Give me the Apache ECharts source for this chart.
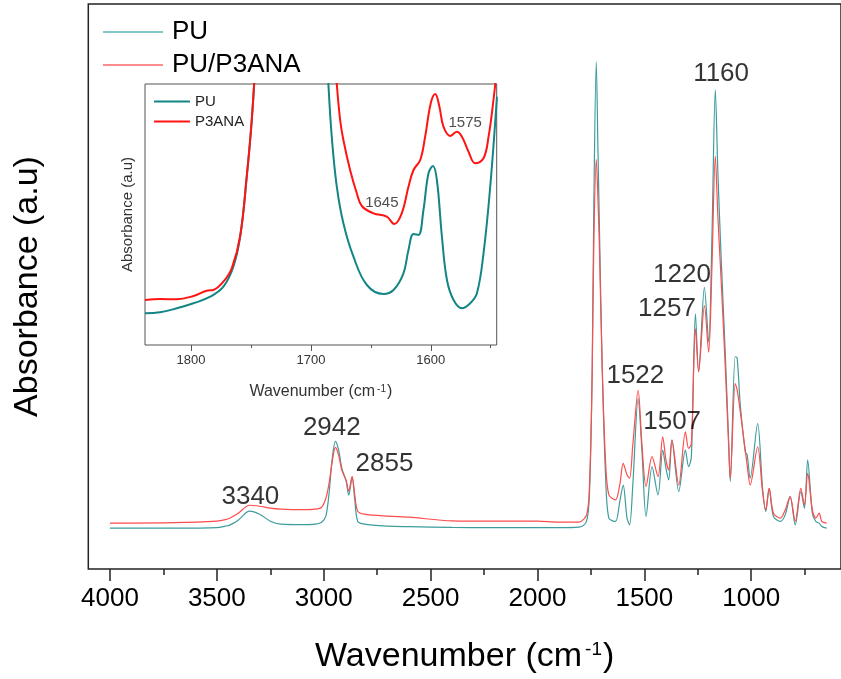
<!DOCTYPE html>
<html>
<head>
<meta charset="utf-8">
<title>PU / PU-P3ANA FTIR</title>
<script src="https://cdn.jsdelivr.net/npm/echarts@6.0.0/dist/echarts.min.js"></script>
<style>
  html, body { margin: 0; padding: 0; background: #fff; }
  #chart { width: 841px; height: 679px; }
</style>
</head>
<body>
<div id="chart"></div>
<script>
var FONT = '"Liberation Sans", Arial, sans-serif';

// main spectrum, wavenumber (cm-1) and absorbance (a.u.)
var wavenumbers = [4000, 3700, 3500, 3460, 3440, 3400, 3347, 3300, 3250, 3200, 3100, 3040, 3010, 2990, 2975, 2960, 2945, 2930, 2915, 2895,
  2883, 2867, 2855, 2841, 2810, 2700, 2600, 2400, 2200, 2000, 1900, 1806, 1783, 1769, 1759, 1751, 1744, 1736, 1725, 1717,
  1710, 1697, 1681, 1666, 1635, 1615, 1599, 1581, 1569, 1554, 1529, 1511, 1492, 1464, 1436, 1414, 1399, 1386, 1371, 1339,
  1308, 1293, 1280, 1261, 1246, 1219, 1199, 1184, 1168, 1156, 1141, 1121, 1106, 1098, 1075, 1066, 1051, 1028, 1019, 1005,
  970, 947, 932, 916, 896, 864, 841, 818, 794, 768, 751, 736, 714, 698, 682, 670, 647];
var puValues = [41, 41, 41.5, 43, 44, 49, 58, 55, 48, 45, 44.5, 45, 47, 53, 76, 111, 128, 119, 101, 88,
  74, 92, 70, 48, 45, 43, 42.5, 41.7, 41.5, 41.5, 41.5, 42, 44, 49, 66, 116, 201, 371, 509, 421,
  341, 201, 91, 51, 47.7, 67.7, 84.3, 51, 44.3, 84.3, 171, 117.7, 52.7, 102.7, 74.3, 119.3, 101, 89.3, 129.3, 77.7,
  119.3, 102.7, 112.7, 256, 198, 282.7, 227.7, 331, 481, 398, 314, 214, 131, 87.7, 213, 212, 164.3, 117.7, 114.3, 91,
  146, 81, 57.7, 81, 52.7, 47.7, 54.3, 72.7, 44.3, 77.7, 61, 109.3, 56, 47.7, 46, 42.7, 41];
var puP3anaValues = [46, 46.5, 48, 49.5, 51, 56, 64, 63, 61, 60, 59.5, 60, 62, 71, 86, 108, 122, 114, 99, 89,
  78, 93, 75, 58, 55, 53, 52, 48.3, 48, 48, 47, 47, 50, 55, 73, 124, 196, 331, 411, 371,
  321, 201, 106, 74.3, 69.3, 84.3, 106, 94.3, 91, 124.3, 179.3, 124.3, 82.7, 112.7, 92.7, 132.7, 109.3, 99.3, 129.3, 84.3,
  137.7, 121, 126, 241, 198, 264.3, 217.7, 301, 414.3, 354, 291, 201, 126, 91, 186, 180, 157.7, 119.3, 104.3, 84.3,
  122.7, 77.7, 59.3, 81, 56, 51, 59.3, 72.7, 47.7, 81, 64.3, 96, 59.3, 51, 56, 47.7, 46];

// inset: 1840-1545 cm-1 zoom
var insetPuWn = [1838.4, 1825.9, 1811.9, 1798, 1784, 1773, 1764.7, 1759, 1753.5, 1749.3, 1746, 1744, 1688, 1685.4, 1682.6, 1678.4,
  1672.9, 1664.5, 1653.3, 1639.5, 1631.1, 1622.8, 1618.6, 1614.4, 1610.3, 1606.1, 1601.9, 1598.2, 1594.9, 1590.7, 1586.5,
  1581, 1574, 1567.1, 1561.5, 1556, 1550.4, 1544.8];
var insetPu = [31.7, 32.7, 36.7, 41.7, 48.3, 58.3, 78.3, 108.3, 168.3, 225, 290, 350, 330, 261, 208.3, 158.3,
  121.7, 88.3, 60, 51, 55, 71.7, 95, 111, 110, 135, 171.7, 179, 165, 108.3, 65,
  45, 36.7, 41.7, 51.7, 91.7, 158.3, 248.3];
var insetP3Wn = [1838.4, 1825.9, 1811.9, 1798, 1786.9, 1781.4, 1773, 1766, 1759, 1753.5, 1749.3, 1746, 1744, 1683, 1680.5, 1678.4,
  1675.6, 1672.9, 1667.3, 1661.7, 1657.5, 1647.8, 1636.7, 1630.5, 1624.2, 1618.6, 1614.4, 1608.8, 1604.7, 1600, 1596.3,
  1592.8, 1589.4, 1583.8, 1578.3, 1574, 1568.5, 1562.9, 1556, 1551.8, 1547.7, 1544.5];
var insetP3 = [45, 46, 45.7, 49, 54.3, 55, 63.3, 76.7, 109, 169, 226, 291, 350, 340, 300, 261,
  225, 205, 175, 151.7, 139, 131.7, 128.3, 121, 131.7, 158.3, 175, 185, 208.3, 241.7, 251,
  238.3, 218.3, 209, 213.3, 208.3, 193.3, 181.7, 186.7, 208.3, 245, 280];

// peak annotations (label centre in data units)
var peakText = ['3340', '2942', '2855', '1522', '1507', '1257', '1220', '1160'];
var peakTextWn = [3343, 2962, 2716, 1542, 1370, 1394, 1324, 1141];
var peakTextY = [72.7, 142, 106, 193.7, 147.7, 261, 295, 497];
var insetText = ['1645', '1575'];
var insetTextWn = [1640.8, 1571.3];
var insetTextY = [141.7, 222];

var mainMajor = [1000, 1500, 2000, 2500, 3000, 3500, 4000];
var mainMinor = [750, 1250, 1750, 2250, 2750, 3250, 3750];
var insetMajor = [1600, 1700, 1800];
var insetMinor = [1550, 1650, 1750];

function zip(xs, ys) {
  return xs.map(function (x, i) { return [x, ys[i]]; });
}
function zip3(xs, ys, ts) {
  return xs.map(function (x, i) { return [x, ys[i], ts[i]]; });
}
function plain(v) { return String(v); }

var tickAxis = function (grid, min, max, ticks, len, color, width, label) {
  return {
    type: 'value', gridIndex: grid, position: 'bottom', inverse: true, min: min, max: max,
    splitLine: { show: false },
    axisLine: { show: false },
    axisTick: { show: true, customValues: ticks, length: len, lineStyle: { color: color, width: width } },
    axisLabel: label ? label : { show: false }
  };
};

var xMain = tickAxis(0, 580, 4101.3, mainMajor, 12, '#222', 1.5,
  { customValues: mainMajor, formatter: plain, fontSize: 26, color: '#000', fontFamily: FONT, margin: 17 });
xMain.name = 'Wavenumber (cm{sup|-1})';
xMain.nameLocation = 'middle';
xMain.nameGap = 71;
xMain.nameTextStyle = { fontSize: 34, color: '#000', fontFamily: FONT,
  rich: { sup: { fontSize: 19, verticalAlign: 'top', color: '#000', fontFamily: FONT, padding: [0, 1, 0, 3] } } };

var xInset = tickAxis(1, 1545, 1838.4, insetMajor, 6, '#555', 1,
  { customValues: insetMajor, formatter: plain, fontSize: 13, color: '#333', fontFamily: FONT, margin: 9 });
xInset.name = 'Wavenumber (cm{sup|-1})';
xInset.nameLocation = 'middle';
xInset.nameGap = 39;
xInset.nameTextStyle = { fontSize: 16, color: '#333', fontFamily: FONT,
  rich: { sup: { fontSize: 10, verticalAlign: 'top', color: '#333', fontFamily: FONT, padding: [0, 1, 0, 2] } } };

var option = {
  animation: false,
  backgroundColor: '#fff',
  grid: [
    { left: 88.3, top: 4, width: 754.4, height: 567, show: true, borderColor: '#222', borderWidth: 1.5 },
    { left: 145, top: 84, width: 351.7, height: 261, show: true, borderColor: '#555', borderWidth: 1, backgroundColor: '#fff' }
  ],
  xAxis: [
    xMain,
    tickAxis(0, 580, 4101.3, mainMinor, 6, '#222', 1.5),
    xInset,
    tickAxis(1, 1545, 1838.4, insetMinor, 3, '#555', 1)
  ],
  yAxis: [
    { type: 'value', gridIndex: 0, min: 0, max: 567, axisLine: { show: false }, axisTick: { show: false },
      axisLabel: { show: false }, splitLine: { show: false },
      name: 'Absorbance (a.u)', nameLocation: 'middle', nameGap: 44,
      nameTextStyle: { fontSize: 34, color: '#000', fontFamily: FONT } },
    { type: 'value', gridIndex: 1, min: 0, max: 261, axisLine: { show: false }, axisTick: { show: false },
      axisLabel: { show: false }, splitLine: { show: false },
      name: 'Absorbance (a.u)', nameLocation: 'middle', nameGap: 10,
      nameTextStyle: { fontSize: 15, color: '#333', fontFamily: FONT } }
  ],
  legend: [
    { data: ['PU', 'PU/P3ANA'], orient: 'vertical', left: 98, top: 14, icon: 'rect', itemWidth: 60, itemHeight: 1.5, itemGap: 7,
      textStyle: { fontSize: 26, color: '#000', fontFamily: FONT, padding: [0, 0, 0, 4] } },
    { data: ['PU_inset', 'P3ANA'], orient: 'vertical', left: 149, top: 89, icon: 'rect', itemWidth: 36, itemHeight: 2, itemGap: 5,
      formatter: function (n) { return n === 'PU_inset' ? 'PU' : n; },
      textStyle: { fontSize: 15, color: '#222', fontFamily: FONT } }
  ],
  series: [
    { name: 'PU', type: 'line', xAxisIndex: 0, yAxisIndex: 0, data: zip(wavenumbers, puValues),
      symbol: 'none', smooth: 0.3, lineStyle: { color: '#3d9c9c', width: 1.2 }, itemStyle: { color: '#5db4b4' } },
    { name: 'PU/P3ANA', type: 'line', xAxisIndex: 0, yAxisIndex: 0, data: zip(wavenumbers, puP3anaValues),
      symbol: 'none', smooth: 0.3, lineStyle: { color: '#ff4c4c', width: 1.2 }, itemStyle: { color: '#ff6666' } },
    { name: 'PU_inset', type: 'line', xAxisIndex: 2, yAxisIndex: 1, data: zip(insetPuWn, insetPu),
      symbol: 'none', smooth: 0.4, lineStyle: { color: '#138585', width: 2 }, itemStyle: { color: '#138585' } },
    { name: 'P3ANA', type: 'line', xAxisIndex: 2, yAxisIndex: 1, data: zip(insetP3Wn, insetP3),
      symbol: 'none', smooth: 0.4, lineStyle: { color: '#ff1414', width: 2 }, itemStyle: { color: '#ff1414' } },
    { type: 'scatter', xAxisIndex: 0, yAxisIndex: 0, data: zip3(peakTextWn, peakTextY, peakText),
      symbolSize: 1, itemStyle: { color: 'rgba(0,0,0,0)' }, silent: true, z: 5,
      label: { show: true, position: 'inside', formatter: function (p) { return p.data[2]; },
        fontSize: 26, color: '#000', fontFamily: FONT } },
    { type: 'scatter', xAxisIndex: 2, yAxisIndex: 1, data: zip3(insetTextWn, insetTextY, insetText),
      symbolSize: 1, itemStyle: { color: 'rgba(0,0,0,0)' }, silent: true, z: 5,
      label: { show: true, position: 'inside', formatter: function (p) { return p.data[2]; },
        fontSize: 15, color: '#222', fontFamily: FONT } }
  ]
};

var chart = echarts.init(document.getElementById('chart'), null, { renderer: 'canvas' });
chart.setOption(option);
</script>
</body>
</html>
